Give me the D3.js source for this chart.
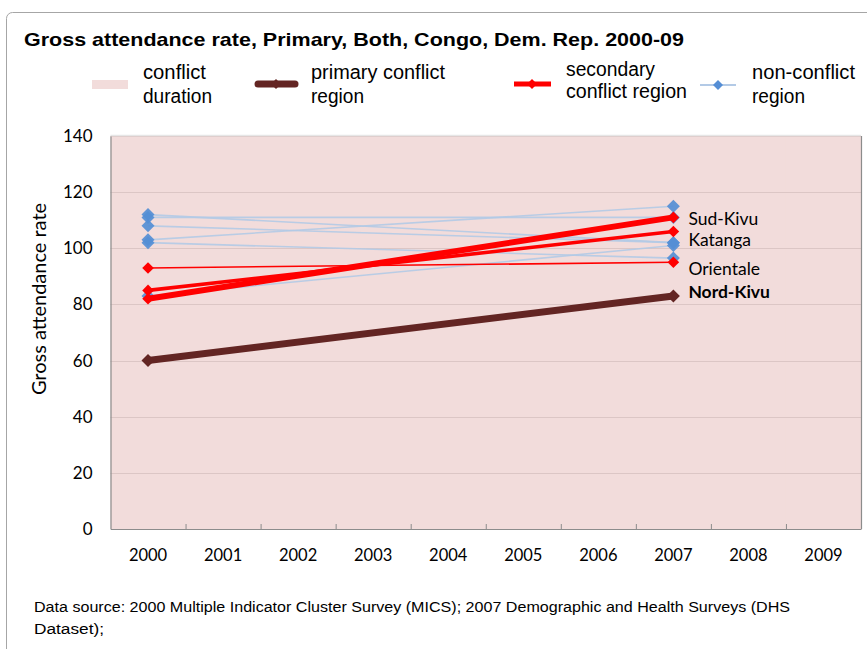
<!DOCTYPE html>
<html>
<head>
<meta charset="utf-8">
<script src="https://cdn.jsdelivr.net/npm/d3@7"></script>
<style>
  html, body { margin: 0; padding: 0; background: #fff; }
  svg { display: block; }
</style>
</head>
<body>
<script>
// Gross attendance rate, primary, both sexes, DR Congo regions: 2000 (MICS) vs 2007 (DHS)
const years = ["2000","2001","2002","2003","2004","2005","2006","2007","2008","2009"];
const yTicks = [0, 20, 40, 60, 80, 100, 120, 140];

// years shaded as conflict duration (full height of the value axis)
const conflictYears = ["2000","2001","2002","2003","2004","2005","2006","2007","2008","2009"];
const conflictLevel = 140;

// primary conflict region
const primaryRegion = { name: "Nord-Kivu", values: [60, 83] };

// secondary conflict regions
const secondaryNames  = ["Sud-Kivu", "Katanga", "Orientale"];
const secondary2000   = [82, 85, 93];
const secondary2007   = [111, 106, 95];
const secondaryWeight = [6, 3.6, 1.6];

// non-conflict regions
const nonConflict2000 = [112, 111, 108, 103, 102, 83];
const nonConflict2007 = [102, 111, 102, 115, 96.5, 101];

const surveyYears = ["2000", "2007"];

const W = 867, H = 649;
const svg = d3.select("body").append("svg").attr("width", W).attr("height", H);

// outer chart frame
svg.append("rect")
  .attr("x", 6.5).attr("y", 12.5).attr("width", 880).attr("height", 660)
  .attr("rx", 6).attr("fill", "#fff").attr("stroke", "#a6a6a6").attr("stroke-width", 1);

const plot = { left: 110.5, right: 861, top: 136, bottom: 529 };

const x = d3.scaleBand().domain(years).range([plot.left, plot.right]).padding(0);
const y = d3.scaleLinear().domain([0, 140]).range([plot.bottom, plot.top]);
const cx = d => x(d) + x.bandwidth() / 2;

// square diamond marker with half-diagonal r
const diamondPath = r => `M0,${-r}L${r},0L0,${r}L${-r},0Z`;

// conflict-duration shading
svg.append("g").selectAll("rect").data(conflictYears).join("rect")
  .attr("x", d => x(d)).attr("width", x.bandwidth() + 0.5)
  .attr("y", y(conflictLevel)).attr("height", y(0) - y(conflictLevel))
  .attr("fill", "#f2dcdb");

// horizontal gridlines
svg.append("g").selectAll("line").data(yTicks.filter(v => v > 0)).join("line")
  .attr("x1", plot.left).attr("x2", plot.right)
  .attr("y1", d => Math.round(y(d)) + 0.5).attr("y2", d => Math.round(y(d)) + 0.5)
  .attr("stroke", "#dcc6c5").attr("stroke-width", 1);

// plot frame edges
svg.append("line").attr("x1", plot.left).attr("x2", plot.right)
  .attr("y1", plot.top - 0.5).attr("y2", plot.top - 0.5)
  .attr("stroke", "#e6e6e6").attr("stroke-width", 1.5);
svg.append("line").attr("x1", plot.right + 0.5).attr("x2", plot.right + 0.5)
  .attr("y1", plot.top).attr("y2", plot.bottom)
  .attr("stroke", "#8c8c8c").attr("stroke-width", 1.2);

// y axis
const yAxis = svg.append("g").attr("transform", `translate(${plot.left},0)`)
  .call(d3.axisLeft(y).tickValues(yTicks).tickSize(0).tickPadding(18));
yAxis.select(".domain").attr("stroke", "#8c8c8c").attr("stroke-width", 1.2);
yAxis.selectAll("text")
  .attr("font-family", "Lato, 'Open Sans', sans-serif").attr("font-size", 17)
  .attr("fill", "#000");

// x axis with tick marks between categories, pointing into the plot
const xAxis = svg.append("g").attr("transform", `translate(0,${plot.bottom})`)
  .call(d3.axisBottom(x).tickSize(0).tickPadding(20));
xAxis.select(".domain").attr("stroke", "#8c8c8c").attr("stroke-width", 1.2);
xAxis.selectAll("text")
  .attr("font-family", "Lato, 'Open Sans', sans-serif").attr("font-size", 16.5)
  .attr("fill", "#000");
svg.append("g").selectAll("line").data(years.slice(1)).join("line")
  .attr("x1", d => x(d) + 0.5).attr("x2", d => x(d) + 0.5)
  .attr("y1", plot.bottom).attr("y2", plot.bottom - 5)
  .attr("stroke", "#8c8c8c").attr("stroke-width", 1);

// y axis title
svg.append("text")
  .attr("transform", `translate(46,299) rotate(-90)`)
  .attr("text-anchor", "middle")
  .attr("font-family", "Lato, 'Open Sans', sans-serif").attr("font-size", 20)
  .attr("fill", "#000")
  .text("Gross attendance rate");

// non-conflict regions
const ncData = nonConflict2000.map((v, i) => [v, nonConflict2007[i]]);
const gNC = svg.append("g");
gNC.selectAll("line").data(ncData).join("line")
  .attr("x1", cx(surveyYears[0])).attr("x2", cx(surveyYears[1]))
  .attr("y1", d => y(d[0])).attr("y2", d => y(d[1]))
  .attr("stroke", "#b3cae6").attr("stroke-width", 1.6).attr("stroke-opacity", 0.9);
ncData.forEach(d => {
  surveyYears.forEach((yr, j) => {
    gNC.append("path").attr("d", diamondPath(6.5))
      .attr("transform", `translate(${cx(yr)},${y(d[j])})`)
      .attr("fill", "#558ed5").attr("fill-opacity", 0.92);
  });
});

// secondary conflict regions
const secData = secondaryNames.map((n, i) => ({ name: n, v: [secondary2000[i], secondary2007[i]], w: secondaryWeight[i] }));
const gSec = svg.append("g");
gSec.selectAll("line").data(secData).join("line")
  .attr("x1", cx(surveyYears[0])).attr("x2", cx(surveyYears[1]))
  .attr("y1", d => y(d.v[0])).attr("y2", d => y(d.v[1]))
  .attr("stroke", "#ff0000").attr("stroke-width", d => d.w);
secData.forEach(d => {
  surveyYears.forEach((yr, j) => {
    gSec.append("path").attr("d", diamondPath(5.8))
      .attr("transform", `translate(${cx(yr)},${y(d.v[j])})`)
      .attr("fill", "#ff0000");
  });
});

// primary conflict region
const gPri = svg.append("g");
gPri.append("line")
  .attr("x1", cx(surveyYears[0])).attr("x2", cx(surveyYears[1]))
  .attr("y1", y(primaryRegion.values[0])).attr("y2", y(primaryRegion.values[1]))
  .attr("stroke", "#632523").attr("stroke-width", 7);
surveyYears.forEach((yr, j) => {
  gPri.append("path").attr("d", diamondPath(6.5))
    .attr("transform", `translate(${cx(yr)},${y(primaryRegion.values[j])})`)
    .attr("fill", "#632523");
});

// region labels beside the 2007 points
const labelX = cx("2007") + 15;
const regionLabels = [
  { t: "Sud-Kivu",  v: secondary2007[0], dy: 3,   bold: false },
  { t: "Katanga",   v: secondary2007[1], dy: 10,  bold: false },
  { t: "Orientale", v: secondary2007[2], dy: 8,   bold: false },
  { t: primaryRegion.name, v: primaryRegion.values[1], dy: -2, bold: true }
];
svg.append("g").selectAll("text").data(regionLabels).join("text")
  .attr("x", labelX).attr("y", d => y(d.v) + d.dy)
  .attr("dominant-baseline", "middle")
  .attr("font-family", "Lato, 'Open Sans', sans-serif").attr("font-size", 17.5)
  .attr("font-weight", d => d.bold ? "bold" : "normal")
  .attr("fill", "#000")
  .text(d => d.t);

// title
svg.append("text")
  .attr("x", 24).attr("y", 46)
  .attr("font-family", "'Liberation Sans', Arial, sans-serif").attr("font-size", 19)
  .attr("font-weight", "bold").attr("fill", "#000")
  .attr("textLength", 660).attr("lengthAdjust", "spacingAndGlyphs")
  .text("Gross attendance rate, Primary, Both, Congo, Dem. Rep. 2000-09");

// legend
const legFont = "'Liberation Sans', Arial, sans-serif";
const leg = svg.append("g").attr("font-family", legFont).attr("font-size", 19.5).attr("fill", "#000");
const legText = (tx, ty, s, len) => leg.append("text").attr("x", tx).attr("y", ty)
  .attr("textLength", len).attr("lengthAdjust", "spacingAndGlyphs").text(s);

leg.append("rect").attr("x", 92).attr("y", 80).attr("width", 36).attr("height", 9).attr("fill", "#f2dcdb");
legText(143, 79, "conflict", 63);
legText(143, 103, "duration", 69);

leg.append("line").attr("x1", 258).attr("x2", 295).attr("y1", 84).attr("y2", 84)
  .attr("stroke", "#632523").attr("stroke-width", 7).attr("stroke-linecap", "round");
leg.append("path").attr("d", diamondPath(5)).attr("transform", "translate(276,84)").attr("fill", "#632523");
legText(311, 79, "primary conflict", 134);
legText(311, 103, "region", 53);

leg.append("line").attr("x1", 514).attr("x2", 551).attr("y1", 84).attr("y2", 84)
  .attr("stroke", "#ff0000").attr("stroke-width", 5);
leg.append("path").attr("d", diamondPath(5)).attr("transform", "translate(532,84)").attr("fill", "#ff0000");
legText(566, 76, "secondary", 89);
legText(566, 98, "conflict region", 121);

leg.append("line").attr("x1", 700).attr("x2", 736).attr("y1", 85).attr("y2", 85)
  .attr("stroke", "#b3cae6").attr("stroke-width", 2);
leg.append("path").attr("d", diamondPath(5)).attr("transform", "translate(718,85)").attr("fill", "#558ed5");
legText(752, 79, "non-conflict", 103);
legText(752, 103, "region", 53);

// data source note
const note = svg.append("g").attr("font-family", legFont).attr("font-size", 15.5).attr("fill", "#000");
note.append("text").attr("x", 34).attr("y", 612)
  .attr("textLength", 756).attr("lengthAdjust", "spacingAndGlyphs")
  .text("Data source: 2000 Multiple Indicator Cluster Survey (MICS);  2007 Demographic and Health Surveys (DHS");
note.append("text").attr("x", 34).attr("y", 634)
  .attr("textLength", 70).attr("lengthAdjust", "spacingAndGlyphs")
  .text("Dataset);");
</script>
</body>
</html>
